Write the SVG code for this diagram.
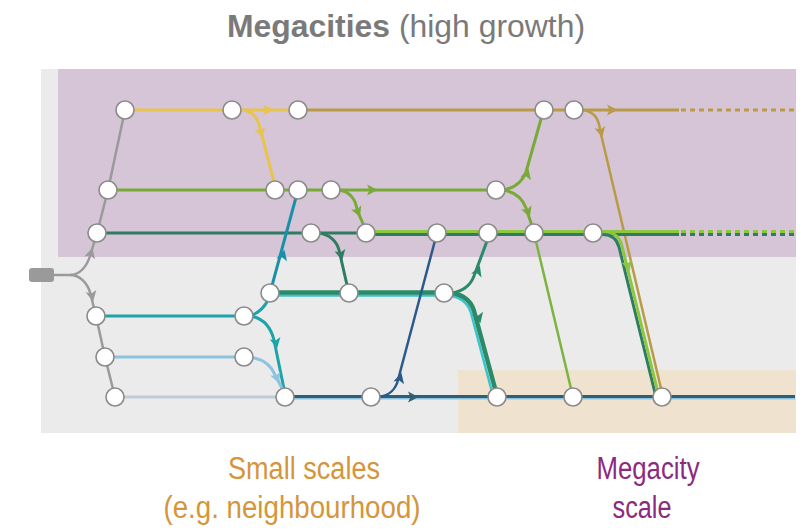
<svg xmlns="http://www.w3.org/2000/svg" xmlns:xlink="http://www.w3.org/1999/xlink" width="803" height="532" viewBox="0 0 803 532">
<style>
.ln{fill:none;stroke-linecap:butt;stroke-linejoin:round}
.nd{fill:#fff;stroke:#8a8a8a;stroke-width:1.6}
.lbl{font-family:"Liberation Sans Narrow","Liberation Sans",Arial,sans-serif;font-size:31px;text-anchor:middle}
</style>
<defs>
<path id="ah" d="M5.5,0 L-5,-5.5 L-2.5,0 L-5,5.5 Z"/>
</defs>
<rect x="0" y="0" width="803" height="532" fill="#fff"/>
<g id="backgrounds">
<rect x="41" y="69" width="755" height="364" fill="#ebebeb"/>
<rect x="58" y="69" width="738" height="188" fill="#d5c5d6"/>
<rect x="458" y="370" width="338" height="63" fill="#efe3d0"/>
</g>
<g id="connectors">
<!-- gray -->
<rect x="29" y="268" width="25" height="14" rx="3" fill="#9a9a9a"/>
<path class="ln" stroke="#9a9a9a" stroke-width="2.5" d="M54,275 L70,275 C80,275 87,266 90,256 L97,233 L108,190 L125,110"/>
<path class="ln" stroke="#9a9a9a" stroke-width="2.5" d="M70,275 C80,275 87,283 90,292 L96,316 L105,357 L115,397"/>
<use xlink:href="#ah" fill="#9a9a9a" transform="translate(91,253) rotate(-75)"/>
<use xlink:href="#ah" fill="#9a9a9a" transform="translate(92,296) rotate(78)"/>
<!-- yellow -->
<path class="ln" stroke="#e8c44e" stroke-width="3" d="M125,110 L298,110"/>
<path class="ln" stroke="#e8c44e" stroke-width="3" d="M240,110 C252,110 258,118 260,128 L274,182"/>
<use xlink:href="#ah" fill="#e8c44e" transform="translate(268,110)"/>
<use xlink:href="#ah" fill="#e8c44e" transform="translate(261,133) rotate(76)"/>
<!-- gold -->
<path class="ln" stroke="#b99a48" stroke-width="3" d="M298,110 L679,110"/>
<path class="ln" stroke="#b99a48" stroke-width="3" stroke-dasharray="5 4" d="M681,110 L795,110"/>
<path class="ln" stroke="#b99a48" stroke-width="2.5" d="M582,110 C594,111 599,119 600,130 L663,397"/>
<use xlink:href="#ah" fill="#b99a48" transform="translate(612,110)"/>
<use xlink:href="#ah" fill="#b99a48" transform="translate(601,132) rotate(77)"/>
<!-- green row 2 -->
<path class="ln" stroke="#79aa38" stroke-width="3" d="M108,190 L496,190"/>
<path class="ln" stroke="#79aa38" stroke-width="3" d="M338,190 C350,191 356,200 357,210 L364,226"/>
<path class="ln" stroke="#79aa38" stroke-width="3" d="M503,190 C516,188 523,180 526,172 L543,112"/>
<path class="ln" stroke="#79aa38" stroke-width="3" d="M503,190 C516,192 523,200 526,208 L532,226"/>
<path class="ln" stroke="#7cb342" stroke-width="2.5" d="M534,233 L573,397"/>
<use xlink:href="#ah" fill="#79aa38" transform="translate(372,190)"/>
<use xlink:href="#ah" fill="#79aa38" transform="translate(358,212) rotate(68)"/>
<use xlink:href="#ah" fill="#79aa38" transform="translate(527,174) rotate(-74)"/>
<use xlink:href="#ah" fill="#79aa38" transform="translate(528,212) rotate(70)"/>
<!-- row 3 -->
<path class="ln" stroke="#2e7d62" stroke-width="3" d="M97,233 L366,233"/>
<path class="ln" stroke="#2e7d62" stroke-width="3" d="M366,234.5 L679,234.5"/>
<path class="ln" stroke="#8dc63f" stroke-width="3" d="M366,231.5 L679,231.5"/>
<path class="ln" stroke="#2e7d62" stroke-width="3" stroke-dasharray="5 4" d="M681,234.5 L795,234.5"/>
<path class="ln" stroke="#8dc63f" stroke-width="3" stroke-dasharray="5 4" d="M681,231.5 L795,231.5"/>
<path class="ln" stroke="#2e7d62" stroke-width="3" d="M603,234.5 C612,234.5 617,240 619,247 L656,397"/>
<path class="ln" stroke="#8dc63f" stroke-width="3" d="M603,231.5 C615,231.5 620,238 622,246 L659,397"/>
<path class="ln" stroke="#2e7d62" stroke-width="3" d="M318,233 C330,234 337,242 339,250 L347,285"/>
<use xlink:href="#ah" fill="#8dc63f" transform="translate(628,266) rotate(76)"/>
<use xlink:href="#ah" fill="#2e7d62" transform="translate(341,255) rotate(77)"/>
<!-- teal-blue up -->
<path class="ln" stroke="#1a8fa8" stroke-width="3" d="M270,293 L298,190"/>
<use xlink:href="#ah" fill="#1a8fa8" transform="translate(283,255) rotate(-75)"/>
<!-- row 4 -->
<path class="ln" stroke="#3cc4cc" stroke-width="2.5" d="M270,295.5 L444,295.5"/>
<path class="ln" stroke="#2b8a68" stroke-width="4.5" d="M270,292.5 L444,292.5"/>
<path class="ln" stroke="#2b8a68" stroke-width="3" d="M452,293 C464,291 471,284 474,276 L487,241"/>
<path class="ln" stroke="#3cc4cc" stroke-width="2.5" d="M444,295.5 C460,295.5 468,303 471,313 L492,392"/>
<path class="ln" stroke="#2b8a68" stroke-width="4.5" d="M444,292.5 C463,292.5 471,301 474,311 L496,392"/>
<use xlink:href="#ah" fill="#2b8a68" transform="translate(478,271) rotate(-70)"/>
<use xlink:href="#ah" fill="#2b8a68" transform="translate(479,318) rotate(75)"/>
<!-- row 5 -->
<path class="ln" stroke="#1ea3a8" stroke-width="3" d="M96,316 L244,316"/>
<path class="ln" stroke="#1ea3a8" stroke-width="3" d="M250,316 C259,313 265,306 268,300"/>
<path class="ln" stroke="#1ea3a8" stroke-width="3" d="M250,316 C264,318 271,328 274,340 L284,389"/>
<use xlink:href="#ah" fill="#1ea3a8" transform="translate(276,343) rotate(79)"/>
<!-- row 6 -->
<path class="ln" stroke="#8cc3df" stroke-width="3" d="M105,357 L244,357 C262,357 271,365 275,375 L283,390"/>
<use xlink:href="#ah" fill="#8cc3df" transform="translate(277,378) rotate(68)"/>
<!-- row 7 -->
<path class="ln" stroke="#c2cad8" stroke-width="3" d="M115,397 L285,397"/>
<path class="ln" stroke="#8cc3df" stroke-width="2" d="M285,398.5 L795,398.5"/>
<path class="ln" stroke="#2e5f72" stroke-width="3" d="M285,396.5 L795,396.5"/>
<use xlink:href="#ah" fill="#2e5f72" transform="translate(413,397)"/>
<!-- blue -->
<path class="ln" stroke="#2c5a8a" stroke-width="2.5" d="M378,397 C390,396 396,388 398,380 L437,233"/>
<use xlink:href="#ah" fill="#2c5a8a" transform="translate(400,378) rotate(-75)"/>
</g>
<g id="nodes">
<g id="n1a"><circle class="nd" cx="125" cy="110" r="9"/></g>
<g id="n1b"><circle class="nd" cx="232" cy="110" r="9"/></g>
<g id="n1c"><circle class="nd" cx="298" cy="110" r="9"/></g>
<g id="n1d"><circle class="nd" cx="544" cy="110" r="9"/></g>
<g id="n1e"><circle class="nd" cx="574" cy="110" r="9"/></g>
<g id="n2a"><circle class="nd" cx="108" cy="190" r="9"/></g>
<g id="n2b"><circle class="nd" cx="275" cy="190" r="9"/></g>
<g id="n2c"><circle class="nd" cx="298" cy="190" r="9"/></g>
<g id="n2d"><circle class="nd" cx="331" cy="190" r="9"/></g>
<g id="n2e"><circle class="nd" cx="496" cy="190" r="9"/></g>
<g id="n3a"><circle class="nd" cx="97" cy="233" r="9"/></g>
<g id="n3b"><circle class="nd" cx="311" cy="233" r="9"/></g>
<g id="n3c"><circle class="nd" cx="366" cy="233" r="9"/></g>
<g id="n3d"><circle class="nd" cx="437" cy="233" r="9"/></g>
<g id="n3e"><circle class="nd" cx="488" cy="233" r="9"/></g>
<g id="n3f"><circle class="nd" cx="534" cy="233" r="9"/></g>
<g id="n3g"><circle class="nd" cx="593" cy="233" r="9"/></g>
<g id="n4a"><circle class="nd" cx="270" cy="293" r="9"/></g>
<g id="n4b"><circle class="nd" cx="349" cy="293" r="9"/></g>
<g id="n4c"><circle class="nd" cx="444" cy="293" r="9"/></g>
<g id="n5a"><circle class="nd" cx="96" cy="316" r="9"/></g>
<g id="n5b"><circle class="nd" cx="244" cy="316" r="9"/></g>
<g id="n6a"><circle class="nd" cx="105" cy="357" r="9"/></g>
<g id="n6b"><circle class="nd" cx="244" cy="357" r="9"/></g>
<g id="n7a"><circle class="nd" cx="115" cy="397" r="9"/></g>
<g id="n7b"><circle class="nd" cx="285" cy="397" r="9"/></g>
<g id="n7c"><circle class="nd" cx="371" cy="397" r="9"/></g>
<g id="n7d"><circle class="nd" cx="497" cy="397" r="9"/></g>
<g id="n7e"><circle class="nd" cx="573" cy="397" r="9"/></g>
<g id="n7f"><circle class="nd" cx="662" cy="397" r="9"/></g>
</g>
<g id="labels">
<text x="406" y="37" font-family="Liberation Sans, Arial, sans-serif" font-size="32" fill="#7a7a7a" text-anchor="middle" textLength="358" lengthAdjust="spacingAndGlyphs"><tspan font-weight="bold">Megacities</tspan> (high growth)</text>
<text class="lbl" x="304" y="479" fill="#d4953b" textLength="152" lengthAdjust="spacingAndGlyphs">Small scales</text>
<text class="lbl" x="292" y="518" fill="#d4953b" textLength="257" lengthAdjust="spacingAndGlyphs">(e.g. neighbourhood)</text>
<text class="lbl" x="648" y="479" fill="#8b2a80" textLength="103" lengthAdjust="spacingAndGlyphs">Megacity</text>
<text class="lbl" x="642" y="518" fill="#8b2a80" textLength="59" lengthAdjust="spacingAndGlyphs">scale</text>
</g>
</svg>
